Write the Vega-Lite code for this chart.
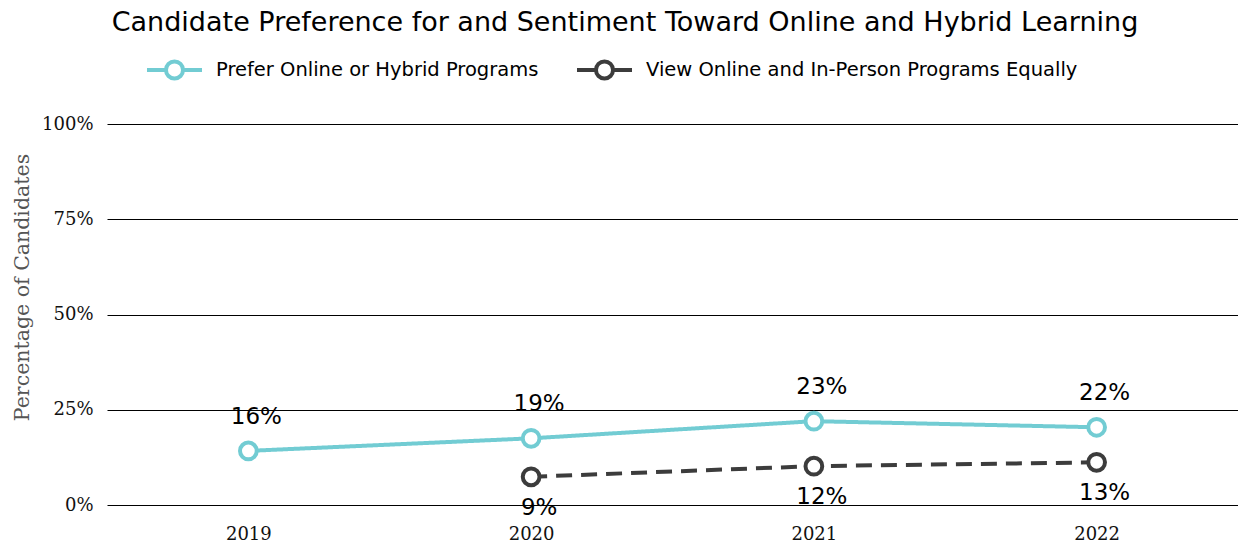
{
  "$schema": "https://vega.github.io/schema/vega-lite/v6.json",
  "width": 1131,
  "height": 381,
  "autosize": {"type": "none"},
  "padding": {"left": 107, "top": 124, "right": 0, "bottom": 41},
  "background": "white",
  "title": {
    "text": "Candidate Preference for and Sentiment Toward Online and Hybrid Learning",
    "frame": "bounds",
    "anchor": "middle",
    "font": "DejaVu Sans",
    "fontSize": 27,
    "fontWeight": "normal",
    "color": "#000000",
    "offset": 3
  },
  "config": {"view": {"stroke": null}},
  "resolve": {"legend": {"color": "independent", "strokeDash": "independent"}},
  "data": {
    "values": [
      {"year": "2019", "series": "Prefer Online or Hybrid Programs", "value": 14.2, "label": "16%"},
      {"year": "2020", "series": "Prefer Online or Hybrid Programs", "value": 17.5, "label": "19%"},
      {"year": "2021", "series": "Prefer Online or Hybrid Programs", "value": 22.0, "label": "23%"},
      {"year": "2022", "series": "Prefer Online or Hybrid Programs", "value": 20.4, "label": "22%"},
      {"year": "2020", "series": "View Online and In-Person Programs Equally", "value": 7.4, "label": "9%"},
      {"year": "2021", "series": "View Online and In-Person Programs Equally", "value": 10.2, "label": "12%"},
      {"year": "2022", "series": "View Online and In-Person Programs Equally", "value": 11.2, "label": "13%"}
    ]
  },
  "encoding": {
    "x": {
      "field": "year",
      "type": "ordinal",
      "scale": {"type": "point", "padding": 0.5},
      "axis": {
        "title": null,
        "labelAngle": 0,
        "domain": false,
        "ticks": false,
        "grid": false,
        "labelFont": "DejaVu Serif",
        "labelFontSize": 18,
        "labelColor": "#111111",
        "labelPadding": 20
      }
    },
    "y": {
      "field": "value",
      "type": "quantitative",
      "scale": {"domain": [0, 100]},
      "axis": {
        "values": [0, 25, 50, 75, 100],
        "format": ".0f",
        "labelExpr": "datum.label + '%'",
        "domain": false,
        "ticks": false,
        "grid": true,
        "gridColor": "#000000",
        "gridWidth": 1,
        "gridOpacity": 1,
        "labelFont": "DejaVu Serif",
        "labelFontSize": 18,
        "labelColor": "#111111",
        "labelPadding": 14,
        "title": "Percentage of Candidates",
        "titleFont": "DejaVu Serif",
        "titleFontSize": 20.5,
        "titleFontWeight": "normal",
        "titleColor": "#555555",
        "titleX": -85,
        "titleY": 163,
        "titleAngle": -90,
        "titleBaseline": "middle",
        "titleAlign": "center"
      }
    }
  },
  "layer": [
    {
      "mark": {"type": "line", "strokeWidth": 4},
      "encoding": {
        "color": {
          "field": "series",
          "type": "nominal",
          "scale": {
            "domain": ["Prefer Online or Hybrid Programs", "View Online and In-Person Programs Equally"],
            "range": ["#72CCD3", "#3C3C3C"]
          },
          "legend": null
        },
        "strokeDash": {
          "field": "series",
          "type": "nominal",
          "scale": {
            "domain": ["Prefer Online or Hybrid Programs", "View Online and In-Person Programs Equally"],
            "range": [[1, 0], [16, 9]]
          },
          "legend": null
        }
      }
    },
    {
      "mark": {"type": "point", "shape": "circle", "filled": false, "fill": "white", "fillOpacity": 1, "opacity": 1, "size": 280, "strokeWidth": 4},
      "encoding": {
        "color": {
          "field": "series",
          "type": "nominal",
          "scale": {
            "domain": ["Prefer Online or Hybrid Programs", "View Online and In-Person Programs Equally"],
            "range": ["#72CCD3", "#3C3C3C"]
          },
          "legend": {
            "title": null,
            "orient": "none",
            "direction": "horizontal",
            "legendX": 38,
            "legendY": -84,
            "symbolType": "M-1,0L-0.31,0M0.31,0L1,0M0.31,0A0.31,0.31,0,1,1,-0.31,0A0.31,0.31,0,1,1,0.31,0Z",
            "symbolSize": 3025,
            "symbolStrokeWidth": 4,
            "symbolFillColor": "white",
            "labelFont": "DejaVu Sans",
            "labelFontSize": 19.5,
            "labelColor": "#000000",
            "labelOffset": 12,
            "labelLimit": 600,
            "columnPadding": 30,
            "encode": {"symbols": {"update": {"fill": {"value": "white"}}}}
          }
        }
      }
    },
    {
      "transform": [{"filter": "datum.series == 'Prefer Online or Hybrid Programs'"}],
      "mark": {"type": "text", "font": "DejaVu Sans", "fontSize": 23, "color": "#000000", "dy": -34, "dx": 8, "baseline": "middle"},
      "encoding": {"text": {"field": "label"}}
    },
    {
      "transform": [{"filter": "datum.series == 'View Online and In-Person Programs Equally'"}],
      "mark": {"type": "text", "font": "DejaVu Sans", "fontSize": 23, "color": "#000000", "dy": 31, "dx": 8, "baseline": "middle"},
      "encoding": {"text": {"field": "label"}}
    }
  ]
}
